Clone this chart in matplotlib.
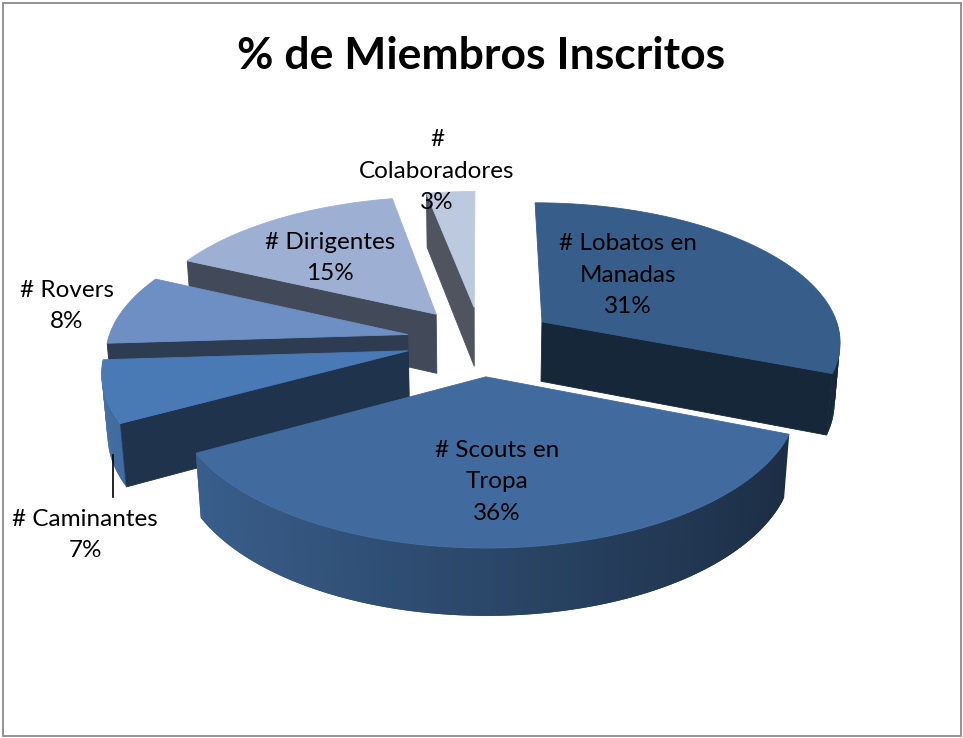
import numpy as np
import matplotlib
matplotlib.use("Agg")
import matplotlib.pyplot as plt
from matplotlib.patches import Polygon, Rectangle
from matplotlib.colors import to_rgb

plt.rcParams['font.family'] = ['Lato', 'DejaVu Sans']

# Data
title = "% de Miembros Inscritos"
categories = ["# Lobatos en\nManadas", "# Scouts en\nTropa", "# Caminantes",
              "# Rovers", "# Dirigentes", "#\nColaboradores"]
values = [31, 36, 7, 8, 15, 3]

# Styles / layout
top_colors = ["#375D8A", "#416B9F", "#4A7AB5", "#6E8FC4", "#9DB0D3", "#BDC9DF"]
label_xy = [(628, 275), (497, 482), (85, 535), (67, 306), (330, 258), (437, 171)]

W, H = 963, 738
cx, cy = 481, 341        # pie centre (pixels)
R = 300                  # radius
explode = 75             # radial offset of every slice
h = 69                   # thickness
tilt = np.radians(27.6)
D = 2060                 # camera distance (perspective)
st, ct = np.sin(tilt), np.cos(tilt)


def proj(U, Y, Z):
    yv = Y * st + Z * ct
    zv = Y * ct - Z * st
    f = D / (D + zv)
    return cx + U * f, cy - yv * f


def shade(color, k):
    r, g, b = to_rgb(color)
    return (r * k, g * k, b * k)


def wall_pts(ox, oy, t0, t1):
    r0, r1 = np.radians(t0), np.radians(t1)
    U0, Y0 = ox + R * np.sin(r0), oy + R * np.cos(r0)
    U1, Y1 = ox + R * np.sin(r1), oy + R * np.cos(r1)
    return [proj(U0, Y0, 0), proj(U1, Y1, 0), proj(U1, Y1, -h), proj(U0, Y0, -h)]


fig = plt.figure(figsize=(W / 100, H / 100), dpi=100)
ax = fig.add_axes([0, 0, 1, 1])
ax.set_xlim(0, W)
ax.set_ylim(H, 0)
ax.axis('off')

total = float(sum(values))
edges = np.concatenate([[0], np.cumsum(values)]) / total * 360.0

slices = []
for i, v in enumerate(values):
    a, b = edges[i], edges[i + 1]
    mid = np.radians((a + b) / 2)
    slices.append((i, a, b, explode * np.sin(mid), explode * np.cos(mid)))

# farthest first
slices.sort(key=lambda s: -s[4])

z = 2
for i, a, b, ox, oy in slices:
    col = top_colors[i]

    # outer wall (front half only), thin overlapping strips for the shading
    wa, wb = max(a, 90.0), min(b, 270.0)
    if wb > wa:
        th = np.linspace(wa, wb, int(np.ceil(wb - wa)) + 1)
        step = th[1] - th[0]
        for t0 in th[:-1]:
            t1 = min(t0 + 2 * step, wb)
            k = 0.66 - 0.25 * np.sin(np.radians(t0 + step / 2))
            ax.add_patch(Polygon(wall_pts(ox, oy, t0, t1), closed=True,
                                 facecolor=shade(col, k), lw=0, zorder=z))
        z += 1

    # radial faces
    for ang, visible in ((a, np.sin(np.radians(a)) < -1e-6),
                         (b, np.sin(np.radians(b)) > 1e-6)):
        if not visible:
            continue
        r = np.radians(ang)
        U, Y = ox + R * np.sin(r), oy + R * np.cos(r)
        pts = [proj(ox, oy, 0), proj(U, Y, 0), proj(U, Y, -h), proj(ox, oy, -h)]
        c = shade(col, 0.42)
        ax.add_patch(Polygon(pts, closed=True, facecolor=c, edgecolor=c,
                             lw=0.6, zorder=z))
        z += 1

    # top surface
    th = np.radians(np.linspace(a, b, int(np.ceil(b - a)) * 2 + 2))
    pts = [proj(ox, oy, 0)] + [proj(ox + R * np.sin(t), oy + R * np.cos(t), 0) for t in th]
    ax.add_patch(Polygon(pts, closed=True, facecolor=col, edgecolor=col,
                         lw=0.6, zorder=z))
    z += 1

# data labels
for i, v in enumerate(values):
    x, y = label_xy[i]
    ax.text(x, y, f"{categories[i]}\n{v / total * 100:.0f}%", ha='center', va='center',
            fontsize=17.5, linespacing=1.6, color='black', zorder=50)

# leader line for the small slice label
ax.plot([113, 113], [455, 497], color='black', lw=1.2, zorder=50)

ax.text(481, 56, title, ha='center', va='center', fontsize=32,
        fontweight='bold', color='black', zorder=50)

ax.add_patch(Rectangle((2.5, 2.5), W - 5, H - 5, fill=False, edgecolor='#8a8a8a',
                       lw=1.3, zorder=60))

fig.savefig("out.png", dpi=100)
